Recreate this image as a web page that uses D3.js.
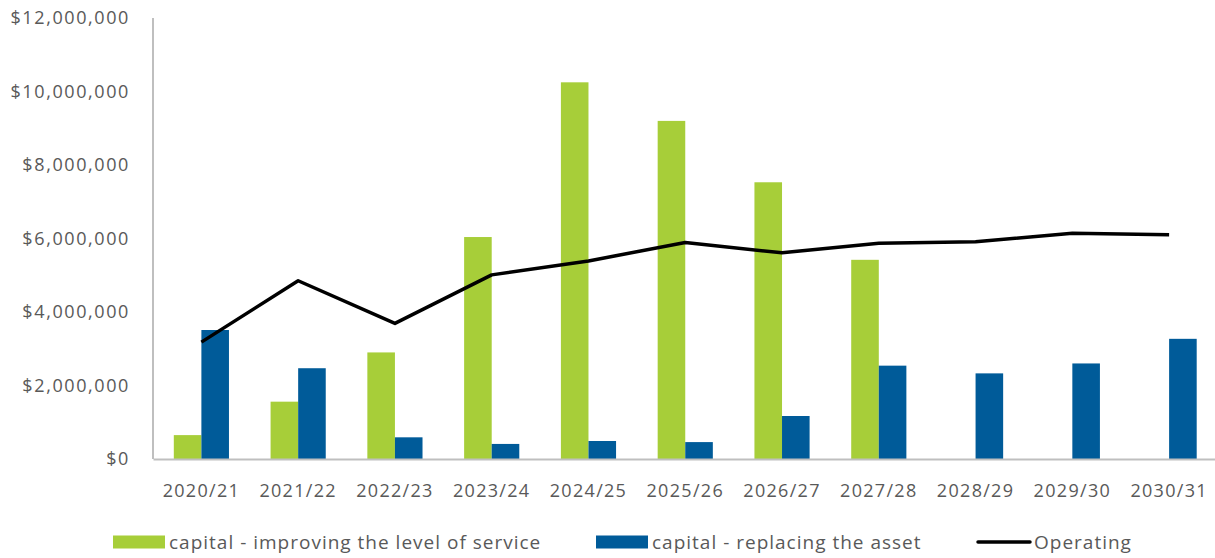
<!DOCTYPE html>
<html>
<head>
<meta charset="utf-8">
<script src="https://cdn.jsdelivr.net/npm/d3@7/dist/d3.min.js"></script>
<style>
  html, body { margin: 0; padding: 0; background: #fff; }
  svg { display: block; }
  text { font-family: "Open Sans", Lato, sans-serif; fill: #595959; }
</style>
</head>
<body>
<svg id="chart" width="1215" height="558"></svg>
<script>
// Financial years
const categories = ["2020/21", "2021/22", "2022/23", "2023/24", "2024/25", "2025/26",
                    "2026/27", "2027/28", "2028/29", "2029/30", "2030/31"];

// Capital spend - improving the level of service ($)
const improvingService = [650000, 1560000, 2900000, 6040000, 10250000, 9200000,
                          7530000, 5420000, 0, 0, 0];

// Capital spend - replacing the asset ($)
const replacingAsset = [3510000, 2470000, 590000, 410000, 490000, 460000,
                        1170000, 2540000, 2330000, 2600000, 3270000];

// Operating spend ($)
const operating = [3180000, 4850000, 3690000, 5010000, 5390000, 5890000,
                   5610000, 5870000, 5910000, 6140000, 6100000];

const yTicks = [0, 2000000, 4000000, 6000000, 8000000, 10000000, 12000000];

const seriesNames = ["capital - improving the level of service",
                     "capital - replacing the asset", "Operating"];

const colors = { improving: "#A7CE39", replacing: "#005B99", operating: "#000000" };

const svg = d3.select("#chart");
const plot = { left: 153, right: 1217.5, top: 18, bottom: 459 };

const x = d3.scaleBand()
  .domain(categories)
  .range([plot.left, plot.right])
  .paddingInner(0.43)
  .paddingOuter(0.215);

const xSub = d3.scaleBand()
  .domain(["improving", "replacing"])
  .range([0, x.bandwidth()]);

const y = d3.scaleLinear()
  .domain([0, 12000000])
  .range([plot.bottom, plot.top]);

const fmt = v => "$" + d3.format(",")(v);

// Y axis labels
const yAxis = d3.axisLeft(y).tickValues(yTicks).tickFormat(fmt).tickSize(0).tickPadding(23);
const gy = svg.append("g").attr("transform", `translate(${plot.left},0)`).call(yAxis);
gy.select(".domain").remove();
gy.selectAll("text").style("font-size", "18px").style("letter-spacing", "1.6px")
  .attr("fill", "#595959").attr("dy", "0.32em");

// Bars
const groups = svg.append("g").selectAll("g")
  .data(categories.map((c, i) => ({ c, improving: improvingService[i], replacing: replacingAsset[i] })))
  .join("g")
  .attr("transform", d => `translate(${x(d.c)},0)`);

groups.selectAll("rect")
  .data(d => ["improving", "replacing"].map(k => ({ k, v: d[k] })))
  .join("rect")
  .attr("x", d => xSub(d.k))
  .attr("width", xSub.bandwidth())
  .attr("y", d => y(d.v))
  .attr("height", d => y(0) - y(d.v))
  .attr("fill", d => colors[d.k]);

// Axis lines
svg.append("line")
  .attr("x1", plot.left).attr("x2", plot.left)
  .attr("y1", plot.top).attr("y2", plot.bottom)
  .attr("stroke", "#BFBFBF").attr("stroke-width", 2);

const xAxis = d3.axisBottom(x).tickSize(0).tickPadding(25);
const gx = svg.append("g").attr("transform", `translate(0,${plot.bottom})`).call(xAxis);
gx.select(".domain").attr("stroke", "#BFBFBF").attr("stroke-width", 2);
gx.selectAll("text").style("font-size", "18px").style("letter-spacing", "1.3px")
  .attr("fill", "#595959");

// Operating line
const line = d3.line()
  .x((d, i) => x(categories[i]) + x.bandwidth() / 2)
  .y(d => y(d));

svg.append("path")
  .datum(operating)
  .attr("d", line)
  .attr("fill", "none")
  .attr("stroke", colors.operating)
  .attr("stroke-width", 3.5)
  .attr("stroke-linejoin", "round");

// Legend
const legend = svg.append("g");
const legendY = 542;
const items = [
  { name: seriesNames[0], type: "rect", color: colors.improving, x: 113, w: 52 },
  { name: seriesNames[1], type: "rect", color: colors.replacing, x: 596, w: 52 },
  { name: seriesNames[2], type: "line", color: colors.operating, x: 978, w: 52 }
];
items.forEach(it => {
  if (it.type === "rect") {
    legend.append("rect").attr("x", it.x).attr("y", legendY - 6.5)
      .attr("width", it.w).attr("height", 13).attr("fill", it.color);
  } else {
    legend.append("line").attr("x1", it.x).attr("x2", it.x + it.w)
      .attr("y1", legendY).attr("y2", legendY)
      .attr("stroke", it.color).attr("stroke-width", 3.5).attr("stroke-linecap", "round");
  }
  legend.append("text").attr("x", it.x + it.w + 4).attr("y", legendY)
    .attr("dy", "0.35em").style("font-size", "19px").style("letter-spacing", "1px")
    .text(it.name);
});
</script>
</body>
</html>
